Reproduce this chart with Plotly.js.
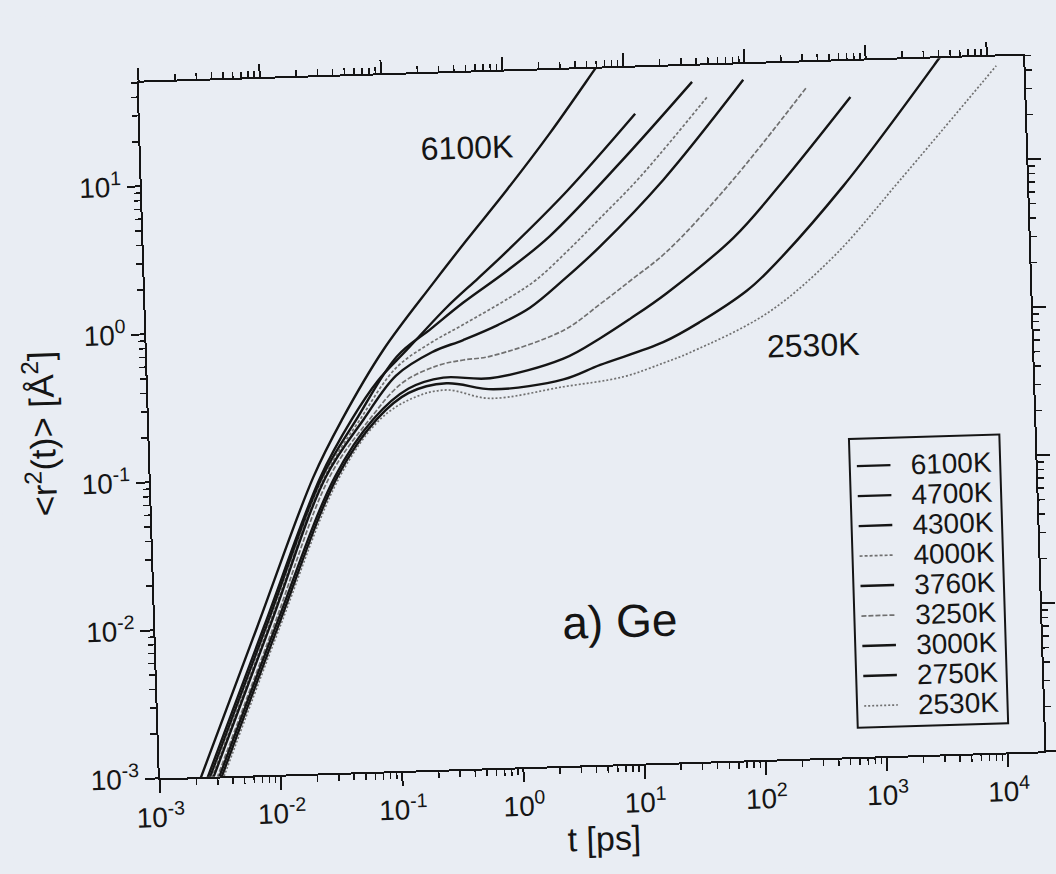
<!DOCTYPE html>
<html>
<head>
<meta charset="utf-8">
<script src="https://cdn.plot.ly/plotly-3.0.1.min.js"></script>
<style>
  html, body { margin: 0; padding: 0; background: #e9edf3; overflow: hidden; }
  #chart {
    width: 1056px; height: 874px;
    transform: rotate(-1.75deg);
    transform-origin: 591.5px 417px;
  }
</style>
</head>
<body>
<div id="chart"></div>
<script>
// Mean square displacement <r^2(t)> of liquid Ge at several temperatures
const labels = ['6100K', '4700K', '4300K', '4000K', '3760K', '3250K', '3000K', '2750K', '2530K'];

const t6100 = [0.00195, 0.00692, 0.0219, 0.0389, 0.0891, 0.240, 0.463, 1.02, 2.40, 5.85, 7.08];
const r6100 = [0.000794, 0.01, 0.1, 0.240, 0.700, 1.94, 3.72, 7.94, 18.9, 50.0, 61.7];

const t4700 = [0.00222, 0.00787, 0.0251, 0.0468, 0.0794, 0.139, 0.305, 0.562, 1.00, 3.20, 12.19];
const r4700 = [0.000794, 0.01, 0.1, 0.240, 0.437, 0.692, 1.32, 2.04, 3.09, 7.59, 24.4];

const t4300 = [0.00232, 0.00822, 0.0260, 0.0513, 0.1146, 0.224, 0.419, 1.00, 2.25, 8.91, 36.6];
const r4300 = [0.000794, 0.01, 0.1, 0.240, 0.627, 0.955, 1.41, 2.29, 3.80, 11.5, 39.0];

const t4000 = [0.00240, 0.00853, 0.0270, 0.0550, 0.112, 0.217, 0.413, 1.00, 1.71, 3.16, 5.90, 12.9, 48.4];
const r4000 = [0.000794, 0.01, 0.1, 0.240, 0.525, 0.759, 1.00, 1.48, 1.95, 3.02, 4.90, 9.12, 30.7];

const t3760 = [0.00248, 0.00879, 0.0278, 0.0589, 0.112, 0.224, 0.409, 0.794, 1.48, 2.84, 5.81, 20.0, 96.8];
const r3760 = [0.000794, 0.01, 0.1, 0.240, 0.468, 0.661, 0.787, 0.977, 1.26, 1.91, 3.16, 8.61, 39.3];

const t3250 = [0.00267, 0.00946, 0.0299, 0.0661, 0.126, 0.251, 0.405, 0.673, 2.75, 5.62, 10.4, 20.5, 71.1, 318];
const r3250 = [0.000794, 0.01, 0.1, 0.240, 0.417, 0.537, 0.577, 0.603, 0.871, 1.29, 1.86, 2.82, 7.94, 33.7];

const t3000 = [0.00277, 0.00984, 0.0331, 0.0708, 0.141, 0.274, 0.665, 2.71, 5.52, 9.82, 20.0, 73.3, 184, 733];
const r3000 = [0.000794, 0.01, 0.1, 0.240, 0.380, 0.443, 0.429, 0.562, 0.759, 1.01, 1.48, 3.39, 7.59, 28.6];

const t2750 = [0.00290, 0.0103, 0.0347, 0.0759, 0.141, 0.290, 0.705, 2.68, 5.43, 18.2, 37.2, 91.6, 136, 612, 4130, 5010];
const r2750 = [0.000794, 0.01, 0.1, 0.240, 0.355, 0.405, 0.361, 0.407, 0.501, 0.692, 0.933, 1.48, 1.95, 7.24, 51.2, 63.1];

const t2530 = [0.00302, 0.0107, 0.0363, 0.0813, 0.158, 0.290, 0.658, 2.67, 8.38, 18.1, 30.1, 133, 485, 1800, 11900];
const r2530 = [0.000794, 0.01, 0.1, 0.240, 0.331, 0.365, 0.314, 0.363, 0.412, 0.501, 0.582, 1.033, 2.41, 7.71, 43.4];

const xTickVals = [1e-3, 1e-2, 1e-1, 1e0, 1e1, 1e2, 1e3, 1e4];
const xTickText = ['10<sup>-3</sup>', '10<sup>-2</sup>', '10<sup>-1</sup>', '10<sup>0</sup>',
                   '10<sup>1</sup>', '10<sup>2</sup>', '10<sup>3</sup>', '10<sup>4</sup>'];
const yTickVals = [1e-3, 1e-2, 1e-1, 1e0, 1e1];
const yTickText = ['10<sup>-3</sup>', '10<sup>-2</sup>', '10<sup>-1</sup>', '10<sup>0</sup>', '10<sup>1</sup>'];

const series = [
  [t6100, r6100], [t4700, r4700], [t4300, r4300], [t4000, r4000], [t3760, r3760],
  [t3250, r3250], [t3000, r3000], [t2750, r2750], [t2530, r2530]
];

// solid black for most temperatures, thin grey broken lines for three of them
const solid = { color: '#151515', width: 2.4, dash: 'solid' };
const styles = [
  solid, solid, solid,
  { color: '#707070', width: 1.7, dash: '3px,2px' },
  solid,
  { color: '#707070', width: 1.7, dash: '5px,2px' },
  solid, solid,
  { color: '#707070', width: 1.7, dash: '2px,2px' }
];

const traces = series.map(([t, r], i) => ({
  x: t, y: r, name: labels[i], type: 'scatter', mode: 'lines', showlegend: false,
  line: Object.assign({ shape: 'spline', smoothing: 1.0 }, styles[i])
}));

const font = 'Liberation Sans, Arial, Helvetica, sans-serif';
const ink = '#151515';

const axisCommon = {
  type: 'log', showgrid: false, zeroline: false,
  showline: true, linecolor: ink, linewidth: 2, mirror: 'ticks',
  ticks: 'outside', ticklen: 13, tickwidth: 2, tickcolor: ink,
  minor: { ticks: 'outside', ticklen: 6, tickwidth: 1.5, tickcolor: ink, dtick: 'D1', showgrid: false },
  tickfont: { family: font, size: 28, color: ink }
};

// key box in the lower right corner of the plot area
const key = { x0: 0.790, x1: 0.960, y0: 0.042, y1: 0.457, top: 0.4178, step: 0.0431,
              lineX0: 0.798, lineX1: 0.836, textX: 0.856 };
const keyShapes = [{
  type: 'rect', xref: 'paper', yref: 'paper',
  x0: key.x0, x1: key.x1, y0: key.y0, y1: key.y1,
  line: { color: ink, width: 2 }, fillcolor: 'rgba(0,0,0,0)'
}];
const keyTexts = [];
labels.forEach((name, i) => {
  const y = key.top - key.step * i;
  keyShapes.push({
    type: 'line', xref: 'paper', yref: 'paper',
    x0: key.lineX0, x1: key.lineX1, y0: y, y1: y,
    line: { color: styles[i].color, width: styles[i].width, dash: styles[i].dash }
  });
  keyTexts.push({
    xref: 'paper', yref: 'paper', x: key.textX, y: y, text: name, showarrow: false,
    xanchor: 'left', yanchor: 'middle', font: { family: font, size: 28, color: ink }
  });
});

const layout = {
  width: 1056, height: 874,
  margin: { l: 149, r: 22, t: 69, b: 109 },
  paper_bgcolor: '#e9edf3', plot_bgcolor: '#e9edf3',
  font: { family: font, color: ink },
  showlegend: false,
  xaxis: Object.assign({}, axisCommon, {
    range: [-3, 4.3], tickvals: xTickVals, ticktext: xTickText,
    title: { text: 't [ps]', font: { family: font, size: 34, color: ink }, standoff: 4 }
  }),
  yaxis: Object.assign({}, axisCommon, {
    range: [-3, 1.70], tickvals: yTickVals, ticktext: yTickText,
    title: { text: '&lt;r<sup>2</sup>(t)&gt; [Å<sup>2</sup>]', font: { family: font, size: 35, color: ink }, standoff: 14 }
  }),
  shapes: keyShapes,
  annotations: [
    { xref: 'paper', yref: 'paper', x: 0.369, y: 0.892, text: '6100K', showarrow: false,
      xanchor: 'center', yanchor: 'middle', font: { family: font, size: 32, color: ink } },
    { xref: 'paper', yref: 'paper', x: 0.753, y: 0.594, text: '2530K', showarrow: false,
      xanchor: 'center', yanchor: 'middle', font: { family: font, size: 32, color: ink } },
    { xref: 'paper', yref: 'paper', x: 0.525, y: 0.2056, text: 'a) Ge', showarrow: false,
      xanchor: 'center', yanchor: 'middle', font: { family: font, size: 46, color: ink } }
  ].concat(keyTexts)
};

Plotly.newPlot('chart', traces, layout, { displayModeBar: false, staticPlot: true });
</script>
</body>
</html>
